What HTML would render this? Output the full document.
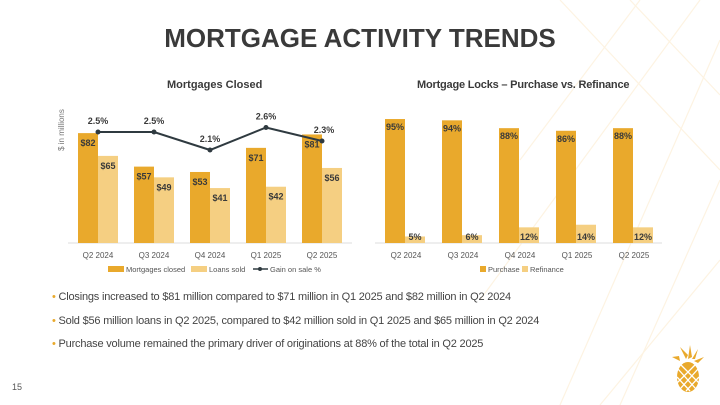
<!DOCTYPE html>
<html><head><meta charset="utf-8"><style>
body{margin:0;width:720px;height:405px;overflow:hidden;background:#fff;font-family:"Liberation Sans",sans-serif;position:relative}
.t{position:absolute;white-space:nowrap}
.b{font-size:11px;letter-spacing:-0.2px;color:#444}
</style></head><body>
<svg width="720" height="405" style="position:absolute;left:0;top:0">
<g stroke="#FDF3E2" stroke-width="1.2" fill="none">
<line x1="560" y1="0" x2="720" y2="170"/><line x1="630" y1="0" x2="720" y2="95"/>
<line x1="720" y1="40" x2="560" y2="405"/><line x1="720" y1="180" x2="620" y2="405"/>
<line x1="600" y1="405" x2="720" y2="260"/><line x1="640" y1="0" x2="520" y2="160"/>
<line x1="700" y1="0" x2="480" y2="300"/>
</g></svg>
<div class="t" style="left:0;width:720px;text-align:center;top:23px;font-size:26px;font-weight:bold;color:#3a3a3a">MORTGAGE ACTIVITY TRENDS</div>
<div class="t" style="left:167px;top:79px;font-size:11px;font-weight:bold;color:#3a3a3a">Mortgages Closed</div>
<div class="t" style="left:417px;top:79px;font-size:11px;letter-spacing:-0.2px;font-weight:bold;color:#3a3a3a">Mortgage Locks – Purchase vs. Refinance</div>
<svg id="c1" width="720" height="405" style="position:absolute;left:0;top:0"></svg>
<div class="t b" style="left:52px;top:291px"><span style="color:#E9A92C">•</span> Closings increased to $81 million compared to $71 million in Q1 2025 and $82 million in Q2 2024</div>
<div class="t b" style="left:52px;top:315px"><span style="color:#E9A92C">•</span> Sold $56 million loans in Q2 2025, compared to $42 million sold in Q1 2025 and $65 million in Q2 2024</div>
<div class="t b" style="left:52px;top:338px"><span style="color:#E9A92C">•</span> Purchase volume remained the primary driver of originations at 88% of the total in Q2 2025</div>
<div class="t" style="left:12px;top:382px;font-size:9px;color:#555">15</div>
<svg width="40" height="50" style="position:absolute;left:668px;top:345px">
<g fill="#E9A92C"><path d="M12 16 L4 12 L11 11 Z M18 14 L12 2 L20 10 Z M20 14 L22 0 L24 12 Z M24 14 L30 4 L27 14 Z M26 16 L36 12 L30 18 Z"/>
<ellipse cx="20" cy="32" rx="11" ry="15"/></g>
<g stroke="#fff" stroke-width="1.3"><line x1="10" y1="24" x2="28" y2="44"/><line x1="12" y1="19" x2="31" y2="38"/><line x1="9" y1="32" x2="22" y2="46"/><line x1="30" y1="24" x2="12" y2="44"/><line x1="28" y1="19" x2="9" y2="38"/><line x1="31" y1="32" x2="18" y2="46"/></g></svg>
<script>
const cats=["Q2 2024","Q3 2024","Q4 2024","Q1 2025","Q2 2025"];
const closed=[82,57,53,71,81];
const sold=[65,49,41,42,56];
const gain=[2.5,2.5,2.1,2.6,2.3];
const purchase=[95,94,88,86,88];
const refinance=[5,6,12,14,12];
const D="#E9A92C",L="#F5CF82",NS="http://www.w3.org/2000/svg";
const svg=document.getElementById('c1');
function mk(tag,at,txt){const e=document.createElementNS(NS,tag);for(const k in at)e.setAttribute(k,at[k]);if(txt!=null)e.textContent=txt;svg.appendChild(e);return e;}
const base=243;
const y1=v=>base-v*1.34, yg=v=>132-(v-2.5)*45, x1=i=>98+i*56;
const y2=v=>base-v*1.305, x2=i=>406+i*57;
let e;
e=mk('line',{x1:68,x2:352,y1:base,y2:base,stroke:'#ddd'});

e=mk('line',{x1:375,x2:662,y1:base,y2:base,stroke:'#ddd'});

e=mk('text',{x:64,y:130,'font-size':8,fill:'#777',transform:'rotate(-90 64 130)','text-anchor':'middle'},'$ in millions');

const tl={'font-size':9,'font-weight':'bold',fill:'#3a3a3a','text-anchor':'middle'};
cats.forEach((c,i)=>{
 const cx=x1(i);
 e=mk('rect',{x:cx-20,y:y1(closed[i]),width:20,height:closed[i]*1.34,fill:D});
 
 e=mk('rect',{x:cx,y:y1(sold[i]),width:20,height:sold[i]*1.34,fill:L});
 
 e=mk('text',Object.assign({x:cx-10,y:y1(closed[i])+13},tl),'$'+closed[i]);
 
 e=mk('text',Object.assign({x:cx+10,y:y1(sold[i])+13},tl),'$'+sold[i]);
 
 e=mk('text',{x:cx,y:258,'font-size':8,fill:'#555','text-anchor':'middle'},c);
 
 const px=x2(i);
 e=mk('rect',{x:px-21,y:y2(purchase[i]),width:20,height:purchase[i]*1.305,fill:D});
 
 e=mk('rect',{x:px-1,y:y2(refinance[i]),width:20,height:refinance[i]*1.305,fill:L});
 
 e=mk('text',Object.assign({x:px-11,y:y2(purchase[i])+11},tl),purchase[i]+'%');
 
 e=mk('text',Object.assign({x:px+9,y:base-3},tl),refinance[i]+'%');
 
 e=mk('text',{x:px,y:258,'font-size':8,fill:'#555','text-anchor':'middle'},c);
 
});
e=mk('polyline',{points:gain.map((g,i)=>x1(i)+','+yg(g)).join(' '),fill:'none',stroke:'#2f3a40','stroke-width':2});

gain.forEach((g,i)=>{
 e=mk('circle',{cx:x1(i),cy:yg(g),r:2.5,fill:'#2f3a40'});
 
 e=mk('text',Object.assign({x:x1(i)+(i==4?2:0),y:yg(g)-8},tl),g.toFixed(1)+'%');
 
});
function lg(x,y,w,col,txt,name,line){
 if(line){e=mk('line',{x1:x,x2:x+15,y1:y,y2:y,stroke:'#2f3a40','stroke-width':1.5});mk('circle',{cx:x+7,cy:y,r:2,fill:'#2f3a40'});}
 else e=mk('rect',{x:x,y:y-3,width:w,height:6,fill:col});
 
 mk('text',{x:x+w+2,y:y+3,'font-size':7.5,fill:'#555'},txt);
}
lg(108,269,16,D,'Mortgages closed','legend-closed');
lg(191,269,16,L,'Loans sold','legend-sold');
lg(253,269,15,null,'Gain on sale %','legend-gain',true);
lg(480,269,6,D,'Purchase','legend-purchase');
lg(522,269,6,L,'Refinance','legend-refinance');
</script>
</body></html>
